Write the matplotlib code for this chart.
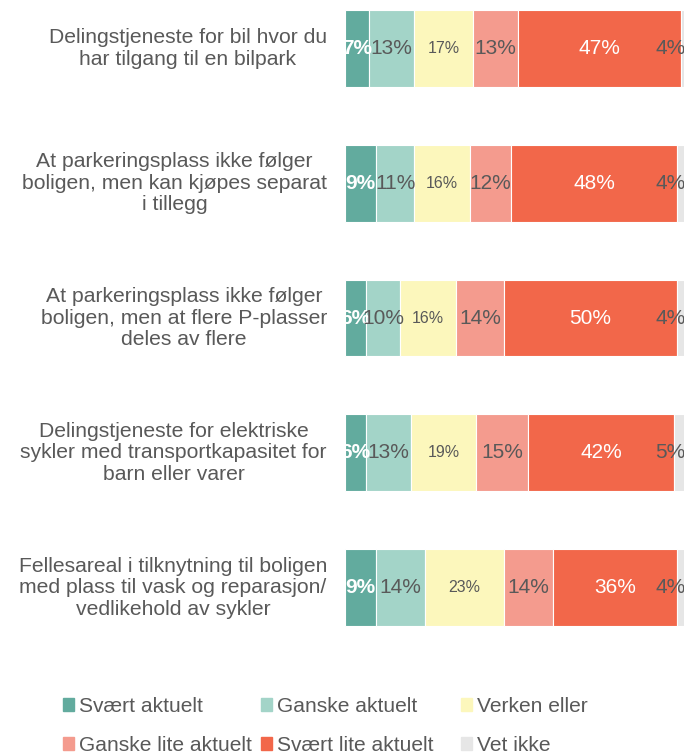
import numpy as np
import matplotlib.pyplot as plt
from matplotlib.patches import Patch
from matplotlib.transforms import blended_transform_factory

plt.rcParams['font.family'] = ['Liberation Sans', 'DejaVu Sans']

categories = [
    "Delingstjeneste for bil hvor du\nhar tilgang til en bilpark",
    "At parkeringsplass ikke følger\nboligen, men kan kjøpes separat\ni tillegg",
    "At parkeringsplass ikke følger\nboligen, men at flere P-plasser\ndeles av flere",
    "Delingstjeneste for elektriske\nsykler med transportkapasitet for\nbarn eller varer",
    "Fellesareal i tilknytning til boligen\nmed plass til vask og reparasjon/\nvedlikehold av sykler",
]
series = ["Svært aktuelt", "Ganske aktuelt", "Verken eller",
          "Ganske lite aktuelt", "Svært lite aktuelt", "Vet ikke"]
values = np.array([
    [7, 13, 17, 13, 47, 4],
    [9, 11, 16, 12, 48, 4],
    [6, 10, 16, 14, 50, 4],
    [6, 13, 19, 15, 42, 5],
    [9, 14, 23, 14, 36, 4],
])
colors = ["#62ab9e", "#a3d4c8", "#fcf7bc", "#f49b8e", "#f2674a", "#e6e6e6"]
text_colors = ["white", "#595959", "#595959", "#595959", "white", "#595959"]
gray = "#595959"

fig = plt.figure(figsize=(6.84, 7.52), dpi=100)
ax = fig.add_axes([345 / 684, 1 - 655 / 752, 339 / 684, 655 / 752])

y = np.arange(len(categories))
left = np.zeros(len(categories))
for j in range(len(series)):
    ax.barh(y, values[:, j], left=left, height=0.57, color=colors[j],
            edgecolor="white", linewidth=0.8)
    for i in range(len(categories)):
        v = values[i, j]
        if j == len(series) - 1:
            x, ha = 98.4, "right"
        else:
            x, ha = left[i] + v / 2, "center"
        size = 11.5 if j == 2 else 15
        weight = "bold" if j == 0 else "normal"
        ax.text(x, y[i], f"{v}%", ha=ha, va="center", fontsize=size,
                color=text_colors[j], fontweight=weight, clip_on=True)
    left += values[:, j]

ax.set_xlim(0, 98)
ax.set_ylim(4.5, -0.36)
ax.axis("off")

trans = blended_transform_factory(ax.transAxes, ax.transData)
for i, lab in enumerate(categories):
    ax.text(-18 / 339, y[i], lab, transform=trans, ha="right", va="center",
            multialignment="center", fontsize=15.2, color=gray,
            linespacing=1.17)

# legend: three equal-width columns, two rows
handles = [Patch(color=c) for c in colors]
for col, xpx in enumerate([63, 261, 461]):
    idx = [col, col + 3]
    leg = fig.legend([handles[k] for k in idx], [series[k] for k in idx],
                     loc="upper left", bbox_to_anchor=(xpx / 684, 1 - 697 / 752),
                     borderaxespad=0, borderpad=0, frameon=False,
                     fontsize=15.1, handlelength=0.52, handleheight=0.52,
                     handletextpad=0.22, labelspacing=0.95, labelcolor=gray)

fig.savefig("out.png", dpi=100)
